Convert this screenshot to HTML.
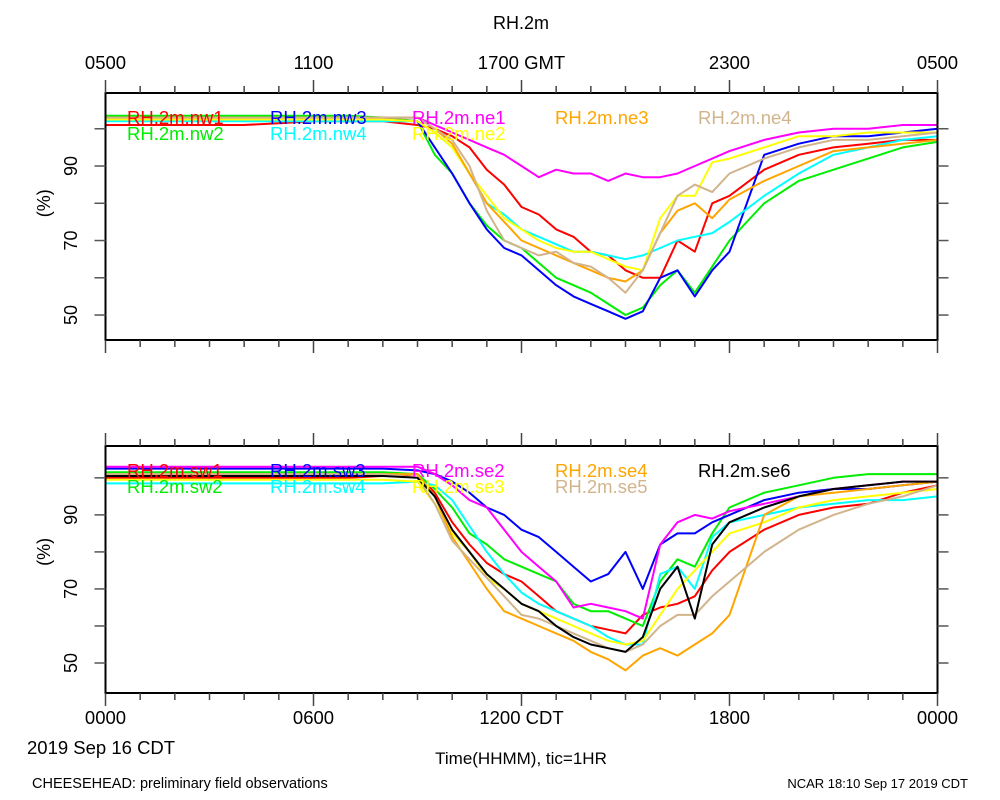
<!DOCTYPE html>
<html><head><meta charset="utf-8"><style>
body{margin:0;background:#fff;}
svg{display:block;font-family:"Liberation Sans",sans-serif;}
</style></head><body>
<svg id="chart" width="1000" height="800" xmlns="http://www.w3.org/2000/svg">
<text x="521" y="29" font-size="18" text-anchor="middle">RH.2m</text>
<text x="27" y="754" font-size="18.5">2019 Sep 16 CDT</text>
<text x="521" y="764" font-size="17" text-anchor="middle">Time(HHMM), tic=1HR</text>
<text x="32" y="788" font-size="14.5">CHEESEHEAD: preliminary field observations</text>
<text x="968" y="788" font-size="13" text-anchor="end">NCAR 18:10 Sep 17 2019 CDT</text>
</svg>
<script>
const T=[0,1,2,3,4,5,6,7,8,9,9.5,10,10.5,11,11.5,12,12.5,13,13.5,14,14.5,15,15.5,16,16.5,17,17.5,18,19,20,21,22,23,24];
const topNames=["RH.2m.nw1","RH.2m.nw2","RH.2m.nw3","RH.2m.nw4","RH.2m.ne1","RH.2m.ne2","RH.2m.ne3","RH.2m.ne4"];
const nw1=[101,101,101,101,101,101.5,102,102,102,101,100,98,95,89,85,79,77,73,71,67,66,62,60,60,70,67,80,82,89,93,95,96,97,97];
const nw2=[103.5,103.5,103.5,103.5,103.5,103.5,103.5,103.5,103,102,93,88,80,74,70,68,64,60,58,56,53,50,52,58,62,56,63,70,80,86,89,92,95,96.5];
const nw3=[102.5,102.5,102.5,102.5,102.5,102.5,102.5,102.5,102.5,102,95,88,80,73,68,66,62,58,55,53,51,49,51,60,62,55,62,67,93,96,98,98,99,100];
const nw4=[102,102,102,102,102,102,102,102,102,102,99,95,88,80,77,73,71,69,67,67,66,65,66,68,70,71,72,75,82,88,93,95,97,98];
const ne1=[103,103,103,103,103,103,103,103,103,103,101,99,97,95,93,90,87,89,88,88,86,88,87,87,88,90,92,94,97,99,100,100,101,101];
const ne2=[102.5,102.5,102.5,102.5,102.5,102.5,102.5,102.5,102.5,102,99,95,88,82,76,73,70,68,67,67,65,63,62,76,82,82,91,92,95,98,98,99,99,99];
const ne3=[103,103,103,103,103,103,103,103,103,103,100,96,88,80,75,70,68,66,64,62,60,59,62,72,78,80,76,81,86,90,94,95,96,97];
const ne4=[103,103,103,103,103,103,103,103,103,103,100,97,90,78,70,68,66,67,64,63,60,56,62,72,82,85,83,88,92,95,97,97,98,99];
const botNames=["RH.2m.sw1","RH.2m.sw2","RH.2m.sw3","RH.2m.sw4","RH.2m.se2","RH.2m.se3","RH.2m.se4","RH.2m.se5","RH.2m.se6"];
const sw1=[100,100,100,100,100,100,100,100,100.5,101,96,88,82,77,74,72,68,64,62,60,59,58,63,65,66,68,75,80,86,90,92,93,96,98];
const sw2=[101.5,101.5,101.5,101.5,101.5,101.5,101.5,101.5,101.5,101,97,92,85,82,78,76,74,72,66,64,64,62,60,72,78,76,85,92,96,98,100,101,101,101];
const sw3=[102.5,102.5,102.5,102.5,102.5,102.5,102.5,102.5,102.5,102,101,99,96,92,90,86,84,80,76,72,74,80,70,82,85,85,88,90,94,96,97,97,98,99];
const sw4=[98.5,98.5,98.5,98.5,98.5,98.5,98.5,98.5,98.5,99,98,94,87,80,74,69,66,64,62,60,57,55,55,74,76,70,84,88,90,92,93,94,94,95];
const se2=[103,103,103,103,103,103,103,103,103,103,101,98,94,92,86,80,76,72,65,66,65,64,62,82,88,90,89,91,93,95,97,98,99,99];
const se3=[99.5,99.5,99.5,99.5,99.5,99.5,99.5,99.5,99.5,99,93,85,80,73,70,66,64,62,60,58,56,55,56,63,70,75,80,85,88,92,94,95,96,97];
const se4=[101,101,101,101,101,101,101,101,101,101,95,84,77,70,64,62,60,58,56,53,51,48,52,54,52,55,58,63,90,95,96,97,98,99];
const se5=[101,101,101,101,101,101,101,101,101,100,93,83,78,73,68,63,62,60,58,56,54,53,55,60,63,63,68,72,80,86,90,93,95,98];
const se6=[100.5,100.5,100.5,100.5,100.5,100.5,100.5,100.5,100.5,100,95,86,80,74,70,66,64,60,57,55,54,53,57,70,76,62,82,88,92,95,97,98,99,99];
const topSeries=[nw1,nw2,nw3,nw4,ne1,ne2,ne3,ne4];
const botSeries=[sw1,sw2,sw3,sw4,se2,se3,se4,se5,se6];
const topColors=["#ff0000","#00ee00","#0000ff","#00ffff","#ff00ff","#ffff00","#ffa500","#d2b48c"];
const botColors=["#ff0000","#00ee00","#0000ff","#00ffff","#ff00ff","#ffff00","#ffa500","#d2b48c","#000000"];
const topXLabels=["0500","1100","1700 GMT","2300","0500"];
const botXLabels=["0000","0600","1200 CDT","1800","0000"];
const yTickVals=[50,70,90];
const yMinorVals=[60,80,100];

const svg=document.getElementById('chart');
const NS="http://www.w3.org/2000/svg";
const X0=105.5,X1=937.5;
function xs(h){return X0+(X1-X0)*h/24;}
function mk(tag,attrs,parent){const e=document.createElementNS(NS,tag);for(const k in attrs)e.setAttribute(k,attrs[k]);(parent||svg).appendChild(e);return e;}

function panel(top,bot,vmin,vmax,series,colors,names,xLabels,labelsAbove,pname){
  const g=mk('g',{});
  
  
  const ys=v=>bot-(v-vmin)/(vmax-vmin)*(bot-top);
  const clipId=pname+'-clip';
  const cp=mk('clipPath',{id:clipId},g);mk('rect',{x:X0,y:top,width:X1-X0,height:bot-top},cp);
  const lg=mk('g',{'clip-path':'url(#'+clipId+')'},g);
  series.forEach((s,i)=>{
    const d=s.map((v,j)=>(j?'L':'M')+xs(T[j]).toFixed(1)+','+ys(v).toFixed(1)).join('');
    const p=mk('path',{d:d,fill:'none',stroke:colors[i],'stroke-width':2,'stroke-linejoin':'round'},lg);
    
    
  });
  const cols=[127,270,412,555,698];
  names.forEach((n,i)=>{
    let cx,cy;
    if(i<8){const c=Math.floor(i/2);cx=cols[c];cy=(i%2===0)?top+31:top+47;}
    else{cx=cols[4];cy=top+31;}
    if(names.length===8&&i>=6){cx=cols[i-3];cy=top+31;}
    const t=mk('text',{x:cx,y:cy,'font-size':18.5,fill:colors[i]},g);
    t.textContent=n;
    
    
  });
  const f=mk('rect',{x:X0,y:top,width:X1-X0,height:bot-top,fill:'none',stroke:'#000','stroke-width':2},g);
  
  
  for(let h=0;h<=24;h++){
    const x=xs(h),L=(h%6===0)?13:7;
    mk('line',{x1:x,x2:x,y1:top,y2:top-L,stroke:'#444','stroke-width':1.5},g);
    mk('line',{x1:x,x2:x,y1:bot,y2:bot+L,stroke:'#444','stroke-width':1.5},g);
  }
  xLabels.forEach((lab,i)=>{
    const ly=labelsAbove?top-24:bot+31;
    const t=mk('text',{x:xs(i*6),y:ly,'font-size':18.5,'text-anchor':'middle'},g);
    t.textContent=lab;
    
    
  });
  yTickVals.concat(yMinorVals).forEach(v=>{
    const y=ys(v);
    mk('line',{x1:X0,x2:X0-11,y1:y,y2:y,stroke:'#555','stroke-width':1.5},g);
    mk('line',{x1:X1,x2:X1+11,y1:y,y2:y,stroke:'#555','stroke-width':1.5},g);
  });
  yTickVals.forEach(v=>{
    const y=ys(v);
    const t=mk('text',{x:0,y:0,'font-size':18,'text-anchor':'middle',transform:'translate(77,'+y.toFixed(1)+') rotate(-90)'},g);
    t.textContent=String(v);
    
    
  });
  const yt=mk('text',{x:0,y:0,'font-size':18,'text-anchor':'middle',transform:'translate(50,'+ys(80).toFixed(1)+') rotate(-90)'},g);
  yt.textContent='(%)';
  
  
}
panel(93,340,43.3,109.6,topSeries,topColors,topNames,topXLabels,true,'top-panel');
panel(446,693,41.9,108.6,botSeries,botColors,botNames,botXLabels,false,'bottom-panel');
</script>
</body></html>
